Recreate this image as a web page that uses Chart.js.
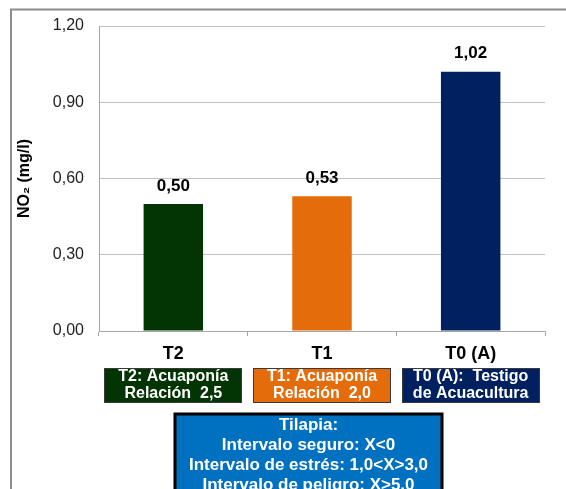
<!DOCTYPE html>
<html>
<head>
<meta charset="utf-8">
<script src="https://cdn.jsdelivr.net/npm/chart.js@4/dist/chart.umd.min.js"></script>
<style>
  html, body { margin: 0; padding: 0; background: #ffffff; }
  #wrap { width: 566px; height: 489px; position: relative; }
</style>
</head>
<body>
<div id="wrap"><canvas id="c" width="566" height="489"></canvas></div>
<script>
// Treatments and measured nitrite (NO2) concentration, mg/l
const categories = ['T2', 'T1', 'T0 (A)'];
const no2Values = [0.50, 0.53, 1.02];
const barColors = ['#033403', '#E46C0A', '#002060'];
const yTicks = [0, 0.30, 0.60, 0.90, 1.20];

// Description of each treatment, shown under its category
const treatmentNotes = [
  ['T2: Acuaponía', 'Relación  2,5'],
  ['T1: Acuaponía', 'Relación  2,0'],
  ['T0 (A):  Testigo', 'de Acuacultura']
];

// Reference ranges for tilapia
const tilapiaNote = [
  'Tilapia:',
  'Intervalo seguro: X<0',
  'Intervalo de estrés: 1,0<X>3,0',
  'Intervalo de peligro: X>5,0'
];

const FONT = '"Liberation Sans", Arial, sans-serif';
const fmt = v => v.toFixed(2).replace('.', ',');

const decorations = {
  id: 'decorations',
  beforeDraw(chart) {
    const ctx = chart.ctx;
    ctx.save();
    ctx.strokeStyle = '#8c8c8c';
    ctx.lineWidth = 2;
    ctx.strokeRect(11, 9.5, 600, 600);
    ctx.restore();
  },
  afterDatasetsDraw(chart) {
    const ctx = chart.ctx;
    const meta = chart.getDatasetMeta(0);
    ctx.save();
    ctx.font = 'bold 17px ' + FONT;
    ctx.fillStyle = '#000000';
    ctx.textAlign = 'center';
    ctx.textBaseline = 'middle';
    meta.data.forEach((bar, i) => {
      ctx.fillText(fmt(no2Values[i]), bar.x, bar.y - 18);
    });
    ctx.restore();
  },
  afterDraw(chart) {
    const ctx = chart.ctx;
    const xs = chart.scales.x;
    ctx.save();
    // treatment boxes
    const bw = 138, top = 368, bh = 35;
    ctx.textAlign = 'center';
    ctx.textBaseline = 'middle';
    ctx.font = 'bold 16px ' + FONT;
    treatmentNotes.forEach((lines, i) => {
      const cx = xs.getPixelForValue(i);
      const left = Math.round(cx - bw / 2);
      ctx.fillStyle = barColors[i];
      ctx.fillRect(left, top, bw, bh);
      ctx.strokeStyle = '#3a3a3a';
      ctx.lineWidth = 1;
      ctx.strokeRect(left + 0.5, top + 0.5, bw - 1, bh - 1);
      ctx.fillStyle = '#ffffff';
      ctx.fillText(lines[0], cx, top + 9);
      ctx.fillText(lines[1], cx, top + 26);
    });
    // tilapia reference box
    const bx = 175, by = 414, bwid = 267;
    ctx.fillStyle = '#0070C0';
    ctx.fillRect(bx, by, bwid, 100);
    ctx.strokeStyle = '#000000';
    ctx.lineWidth = 3;
    ctx.strokeRect(bx, by, bwid, 100);
    ctx.fillStyle = '#ffffff';
    ctx.font = 'bold 17px ' + FONT;
    const cxb = bx + bwid / 2;
    tilapiaNote.forEach((t, i) => {
      ctx.fillText(t, cxb, by + 11 + i * 20);
    });
    ctx.restore();
  }
};

new Chart(document.getElementById('c'), {
  type: 'bar',
  data: {
    labels: categories,
    datasets: [{
      data: no2Values,
      backgroundColor: barColors,
      borderWidth: 0,
      barPercentage: 0.4,
      categoryPercentage: 1.0
    }]
  },
  options: {
    responsive: false,
    animation: false,
    devicePixelRatio: 1,
    layout: { padding: { left: 0, top: 26, right: 21, bottom: 0 } },
    plugins: { legend: { display: false }, tooltip: { enabled: false } },
    scales: {
      y: {
        min: 0,
        max: 1.2,
        afterBuildTicks(scale) { scale.ticks = yTicks.map(v => ({ value: v })); },
        afterFit(scale) { scale.width = 99; },
        ticks: {
          padding: 15,
          color: '#222222',
          font: { family: FONT, size: 16 },
          callback: v => fmt(v)
        },
        grid: { color: '#c0c0c0', drawTicks: false, lineWidth: 1 },
        border: { color: '#a6a6a6' },
        title: {
          display: true,
          text: 'NO\u2082 (mg/l)',
          color: '#000000',
          font: { family: FONT, size: 16, weight: 'bold' },
          padding: { top: 15, bottom: 0 }
        }
      },
      x: {
        afterFit(scale) { scale.height = 158; },
        ticks: {
          padding: 7,
          color: '#000000',
          font: { family: FONT, size: 18, weight: 'bold' }
        },
        grid: { offset: true, drawOnChartArea: false, tickLength: 5, color: '#a6a6a6' },
        border: { color: '#a6a6a6' }
      }
    }
  },
  plugins: [decorations]
});
</script>
</body>
</html>
